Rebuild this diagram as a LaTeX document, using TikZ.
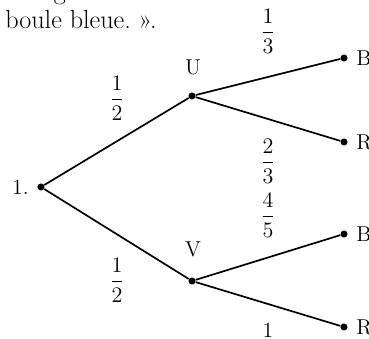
\documentclass[tikz,border=0pt]{standalone}
\usepackage{amsmath}
\usetikzlibrary{positioning}

\begin{document}
\begin{tikzpicture}[
    x=0.65pt, y=-0.65pt,
    node distance=2pt,
    every node/.style={font=\fontsize{14}{16}\selectfont},
    dot/.style={circle, fill, inner sep=0pt, minimum size=4.6pt},
    branch/.style={line width=1.1pt},
    prob/.style={inner sep=0pt},
    body/.style={inner sep=0pt, font=\fontsize{17}{20}\selectfont},
  ]
  \clip (0,0) rectangle (369,339);

  % --- Text above the tree ---
  \node[body, anchor=base] (cut) at (60,0) {g};
  \node[body, anchor=base west] (txt) at (5,29) {boule bleue.~».};

  % --- Tree nodes ---
  \node[dot] (root) at (41,187) {};
  \node[dot] (u) at (192,96) {};
  \node[dot] (v) at (192,281) {};
  \node[dot] (ub) at (344,58) {};
  \node[dot] (ur) at (344,142) {};
  \node[dot] (vb) at (344,234) {};
  \node[dot] (vr) at (344,327) {};

  % --- Node labels ---
  \node[left=of root] (lroot) {1.};
  \node at (193,67) (lu) {U};
  \node at (193,249) (lv) {V};
  \node[right=of ub] (lub) {B};
  \node[right=of ur] (lur) {R};
  \node[right=of vb] (lvb) {B};
  \node[right=of vr] (lvr) {R};

  % --- Branches ---
  \draw[branch] (root) -- (u);
  \draw[branch] (root) -- (v);
  \draw[branch] (u) -- (ub);
  \draw[branch] (u) -- (ur);
  \draw[branch] (v) -- (vb);
  \draw[branch] (v) -- (vr);

  % --- Probabilities ---
  \node[prob] (pu) at (117,98) {$\dfrac{1}{2}$};
  \node[prob] (pv) at (117,280) {$\dfrac{1}{2}$};
  \node[prob] (pub) at (268,31) {$\dfrac{1}{3}$};
  \node[prob] (pur) at (268,161) {$\dfrac{2}{3}$};
  \node[prob] (pvb) at (268,215) {$\dfrac{4}{5}$};
  \node[prob] (pvr) at (268,330) {1};

\end{tikzpicture}
\end{document}
